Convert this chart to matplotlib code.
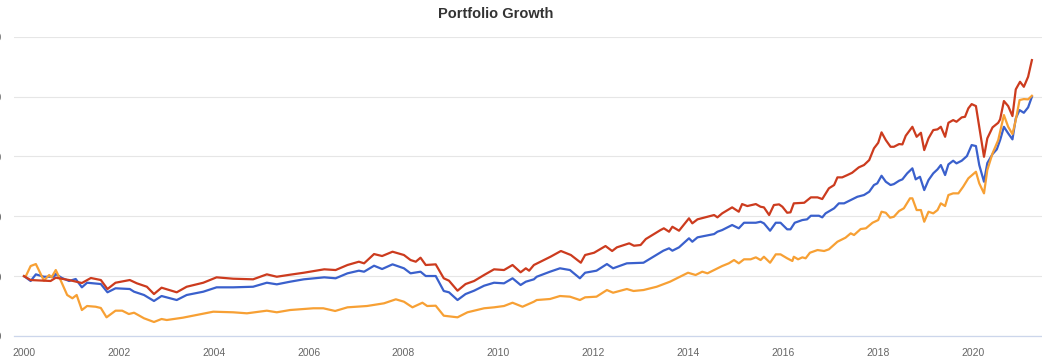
import matplotlib
matplotlib.use('Agg')
import matplotlib.pyplot as plt
from matplotlib.ticker import FuncFormatter

# dates are in fractional years, balances in dollars
red_t = [2000.00, 2000.14, 2000.56, 2000.67, 2000.95, 2001.22, 2001.41, 2001.62, 2001.76, 2001.93,
         2002.23, 2002.38, 2002.59, 2002.74, 2002.90, 2003.22, 2003.43, 2003.78, 2004.06, 2004.41,
         2004.83, 2005.12, 2005.33, 2005.61, 2005.90, 2006.33, 2006.57, 2006.82, 2007.06, 2007.17,
         2007.38, 2007.55, 2007.77, 2008.01, 2008.15, 2008.26, 2008.36, 2008.47, 2008.68, 2008.85,
         2008.96, 2009.14, 2009.31, 2009.49, 2009.70, 2009.91, 2010.12, 2010.30, 2010.47, 2010.58,
         2010.65, 2010.75, 2011.10, 2011.32, 2011.53, 2011.74, 2011.83, 2012.02, 2012.26, 2012.40,
         2012.50, 2012.76, 2012.86, 2013.00, 2013.11, 2013.25, 2013.42, 2013.49, 2013.60, 2013.67,
         2013.81, 2014.02, 2014.09, 2014.20, 2014.55, 2014.62, 2014.72, 2014.93, 2015.07, 2015.14,
         2015.25, 2015.43, 2015.53, 2015.60, 2015.71, 2015.81, 2015.92, 2015.99, 2016.09, 2016.16,
         2016.23, 2016.45, 2016.59, 2016.73, 2016.83, 2016.97, 2017.08, 2017.15, 2017.25, 2017.36,
         2017.46, 2017.60, 2017.71, 2017.82, 2017.92, 2018.01, 2018.08, 2018.17, 2018.27, 2018.34,
         2018.45, 2018.52, 2018.59, 2018.73, 2018.82, 2018.91, 2018.98, 2019.07, 2019.17, 2019.26,
         2019.33, 2019.42, 2019.49, 2019.59, 2019.66, 2019.77, 2019.84, 2019.91, 2019.98, 2020.07,
         2020.14, 2020.24, 2020.31, 2020.42, 2020.54, 2020.58, 2020.66, 2020.75, 2020.84, 2020.91,
         2021.00, 2021.08, 2021.17, 2021.25]
red_v = [10000, 9350, 9190, 9740, 9350, 8850, 9690, 9350, 7850, 8900,
         9350, 8800, 8230, 7010, 8070, 7300, 8230, 8900, 9800, 9570,
         9470, 10300, 9900, 10240, 10570, 11140, 11020, 11860, 12410, 12140,
         13690, 13360, 14080, 13530, 12690, 12410, 13080, 11860, 11970, 9640,
         9240, 7570, 8680, 9190, 10190, 11140, 11020, 11860, 10640, 11310,
         10910, 11860, 13240, 14200, 13530, 12240, 13530, 13910, 15030, 14200,
         14810, 15480, 15080, 15200, 16200, 16870, 17700, 17990, 17420, 18250,
         17590, 19660, 18820, 19490, 20210, 19820, 20490, 21490, 20760, 22040,
         21710, 22040, 21590, 21490, 20210, 21880, 21990, 21590, 20590, 20660,
         22160, 22260, 23160, 23160, 22880, 24670, 25220, 26500, 26500, 26890,
         27270, 28170, 28560, 29390, 31350, 32280, 34020, 32730, 31610, 31610,
         32060, 32010, 33450, 34950, 33280, 33950, 31060, 33020, 34400, 34520,
         34950, 33280, 35620, 36070, 35790, 36520, 36620, 38030, 38740, 38410,
         34950, 29940, 33020, 34850, 35620, 36190, 39250, 38410, 36740, 41200,
         42470, 41630, 43300, 46090]

blue_t = [2000.00, 2000.14, 2000.25, 2000.42, 2000.63, 2000.67, 2000.80, 2000.95, 2001.09, 2001.22,
          2001.33, 2001.62, 2001.76, 2001.93, 2002.23, 2002.32, 2002.53, 2002.74, 2002.90, 2003.22,
          2003.43, 2003.78, 2004.06, 2004.41, 2004.83, 2005.12, 2005.33, 2005.61, 2005.90, 2006.33,
          2006.57, 2006.82, 2007.06, 2007.17, 2007.38, 2007.55, 2007.77, 2008.01, 2008.15, 2008.36,
          2008.47, 2008.68, 2008.85, 2008.96, 2009.14, 2009.31, 2009.49, 2009.70, 2009.91, 2010.12,
          2010.30, 2010.47, 2010.58, 2010.75, 2010.81, 2011.09, 2011.30, 2011.51, 2011.72, 2011.83,
          2012.07, 2012.29, 2012.42, 2012.71, 2013.06, 2013.27, 2013.48, 2013.60, 2013.67, 2013.81,
          2014.02, 2014.09, 2014.20, 2014.55, 2014.62, 2014.72, 2014.93, 2015.07, 2015.18, 2015.43,
          2015.53, 2015.60, 2015.73, 2015.85, 2015.95, 2016.09, 2016.16, 2016.25, 2016.41, 2016.51,
          2016.59, 2016.76, 2016.83, 2016.90, 2017.08, 2017.18, 2017.29, 2017.46, 2017.57, 2017.71,
          2017.82, 2017.92, 2017.99, 2018.08, 2018.17, 2018.27, 2018.34, 2018.45, 2018.52, 2018.62,
          2018.73, 2018.80, 2018.89, 2018.98, 2019.07, 2019.17, 2019.26, 2019.33, 2019.42, 2019.49,
          2019.59, 2019.66, 2019.77, 2019.88, 2019.98, 2020.07, 2020.14, 2020.24, 2020.31, 2020.42,
          2020.51, 2020.58, 2020.66, 2020.75, 2020.84, 2020.91, 2020.99, 2021.08, 2021.17, 2021.25]
blue_v = [10000, 9190, 10300, 9900, 9900, 10350, 9690, 9190, 9520, 8130,
          8900, 8680, 7300, 7970, 7850, 7400, 6850, 5850, 6680, 6010,
          6850, 7400, 8130, 8130, 8230, 8900, 8630, 9070, 9470, 9800,
          9640, 10470, 10910, 10740, 11740, 11190, 11970, 11310, 10470, 10740,
          10020, 10020, 7520, 7300, 6010, 7010, 7570, 8400, 8900, 8800,
          9640, 8520, 9070, 9470, 9900, 10740, 11310, 11020, 9640, 10570,
          10910, 12020, 11310, 12140, 12240, 13240, 14250, 14650, 14250, 14810,
          16320, 15750, 16480, 17030, 17420, 17700, 18540, 17990, 18920, 18920,
          19090, 18820, 17590, 18920, 18920, 17820, 17820, 18920, 19370, 19490,
          20090, 20090, 19820, 20490, 21330, 22160, 22160, 22830, 23260, 23550,
          24100, 25220, 25500, 26770, 25770, 25220, 25380, 25940, 26170, 27170,
          28010, 26170, 26600, 24380, 26050, 27170, 27840, 28560, 26890, 28670,
          29280, 28840, 29280, 30060, 31900, 31730, 28560, 25770, 28890, 30390,
          31180, 32730, 34950, 33850, 32850, 36360, 37740, 37290, 38190, 39960]

orange_t = [2000.00, 2000.04, 2000.14, 2000.25, 2000.42, 2000.53, 2000.58, 2000.67, 2000.77, 2000.91,
            2001.02, 2001.11, 2001.22, 2001.33, 2001.51, 2001.62, 2001.74, 2001.93, 2002.07, 2002.21,
            2002.32, 2002.53, 2002.74, 2002.90, 2003.01, 2003.35, 2003.99, 2004.41, 2004.70, 2005.12,
            2005.33, 2005.61, 2005.90, 2006.10, 2006.31, 2006.56, 2006.82, 2007.23, 2007.59, 2007.84,
            2008.01, 2008.19, 2008.40, 2008.50, 2008.68, 2008.85, 2009.14, 2009.35, 2009.70, 2009.91,
            2010.12, 2010.30, 2010.51, 2010.75, 2010.81, 2011.09, 2011.30, 2011.51, 2011.72, 2011.83,
            2012.07, 2012.29, 2012.42, 2012.71, 2012.85, 2013.06, 2013.34, 2013.62, 2013.90, 2014.00,
            2014.16, 2014.30, 2014.41, 2014.55, 2014.72, 2014.86, 2014.97, 2015.07, 2015.18, 2015.32,
            2015.43, 2015.53, 2015.60, 2015.73, 2015.85, 2015.95, 2016.09, 2016.20, 2016.23, 2016.32,
            2016.41, 2016.48, 2016.57, 2016.73, 2016.87, 2016.97, 2017.15, 2017.32, 2017.43, 2017.50,
            2017.64, 2017.75, 2017.89, 2018.01, 2018.08, 2018.17, 2018.26, 2018.34, 2018.45, 2018.55,
            2018.68, 2018.73, 2018.82, 2018.91, 2018.98, 2019.07, 2019.17, 2019.26, 2019.33, 2019.42,
            2019.49, 2019.59, 2019.70, 2019.80, 2019.91, 2020.07, 2020.14, 2020.24, 2020.31, 2020.42,
            2020.54, 2020.66, 2020.75, 2020.84, 2020.91, 2020.99, 2021.08, 2021.17, 2021.25]
orange_v = [10000, 10020, 11690, 12020, 9240, 10190, 9800, 11020, 9350, 6850,
            6300, 6850, 4340, 5010, 4890, 4680, 3120, 4230, 4230, 3670,
            3890, 2960, 2340, 2840, 2670, 3060, 4060, 3960, 3790, 4230,
            3960, 4340, 4510, 4630, 4630, 4180, 4790, 5010, 5460, 6130,
            5730, 4790, 5560, 5010, 5060, 3390, 3120, 3960, 4630, 4790,
            5010, 5560, 4890, 5730, 6010, 6180, 6680, 6570, 6010, 6460,
            6570, 7680, 7230, 7850, 7520, 7680, 8230, 9070, 10190, 10570,
            10190, 10740, 10470, 11020, 11690, 12140, 12690, 12140, 12810, 12810,
            13140, 12690, 13240, 12240, 13640, 13640, 12980, 12530, 13240, 12810,
            13140, 12980, 13910, 14360, 14200, 14480, 15750, 16420, 17150, 16870,
            17870, 17990, 18920, 19370, 20760, 20590, 19760, 19920, 20880, 21330,
            23000, 23000, 21040, 21040, 19090, 20760, 20490, 21040, 22160, 21710,
            23550, 23830, 23830, 24930, 26340, 27440, 25500, 23830, 27720, 30510,
            32730, 36910, 34950, 33730, 36070, 39410, 39580, 39530, 40130]

year_ticks = [2000, 2002, 2004, 2006, 2008, 2010, 2012, 2014, 2016, 2018, 2020]
value_ticks = [0, 10000, 20000, 30000, 40000, 50000]

fig = plt.figure(figsize=(10.42, 3.59), dpi=100)
ax = fig.add_axes([14 / 1042, 23 / 359, 1 - 14 / 1042, 299.3 / 359])

ax.plot(blue_t, blue_v, color='#3a60cc', lw=1.6, solid_joinstyle='round')
ax.plot(orange_t, orange_v, color='#f7a034', lw=1.6, solid_joinstyle='round')
ax.plot(red_t, red_v, color='#cc3b1e', lw=1.6, solid_joinstyle='round')

ax.set_xlim(1999.789, 2021.463)
ax.set_ylim(0, 50000)
ax.set_xticks(year_ticks)
ax.set_xticklabels([str(y) for y in year_ticks])
ax.set_yticks(value_ticks)
ax.yaxis.set_major_formatter(FuncFormatter(lambda v, p: f'${v:,.0f}'))
ax.tick_params(axis='x', length=0, pad=9, labelsize=7.5, labelcolor='#666666')
ax.tick_params(axis='y', length=0, pad=8.3, labelsize=7.5, labelcolor='#666666')
for lab in ax.get_xticklabels() + ax.get_yticklabels():
    lab.set_fontfamily('Liberation Sans')

ax.grid(axis='y', color='#e6e6e6', lw=0.8)
ax.set_axisbelow(True)
for s in ['top', 'right', 'left']:
    ax.spines[s].set_visible(False)
ax.spines['bottom'].set_color('#ccd6eb')
ax.spines['bottom'].set_linewidth(0.9)

fig.text(495.8 / 1042, 1 - 14 / 359, 'Portfolio Growth', ha='center', va='center',
         fontsize=10.5, fontweight='bold', color='#333333', family='Liberation Sans')

fig.savefig('out.png', dpi=100)
